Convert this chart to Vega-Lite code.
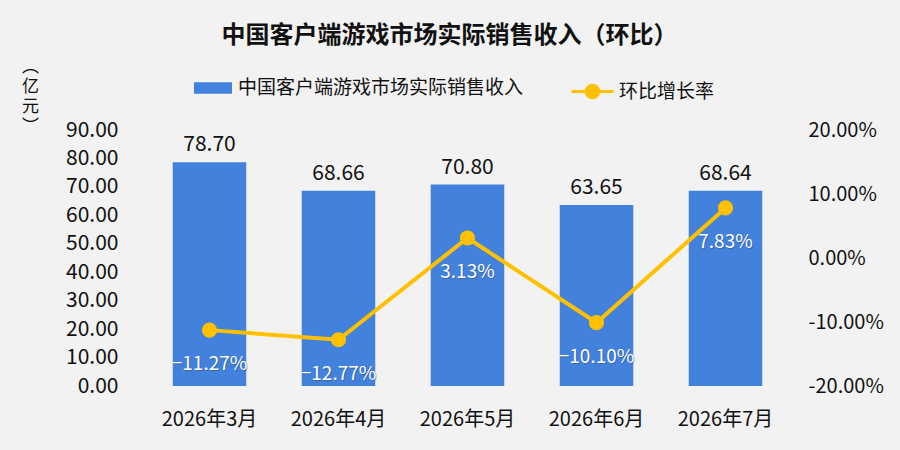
{
  "$schema": "https://vega.github.io/schema/vega-lite/v6.json",
  "width": 645,
  "height": 256,
  "autosize": {"type": "none"},
  "padding": {"left": 145, "top": 130, "right": 110, "bottom": 64},
  "background": "#f2f2f2",
  "title": {
    "text": "中国客户端游戏市场实际销售收入（环比）",
    "fontSize": 24,
    "fontWeight": "bold",
    "color": "#111111",
    "anchor": "middle",
    "dx": -18,
    "offset": 9
  },
  "data": {
    "values": [
      {"month": "2026年3月", "revenue": 78.70, "growth": -0.1127},
      {"month": "2026年4月", "revenue": 68.66, "growth": -0.1277},
      {"month": "2026年5月", "revenue": 70.80, "growth": 0.0313},
      {"month": "2026年6月", "revenue": 63.65, "growth": -0.1010},
      {"month": "2026年7月", "revenue": 68.64, "growth": 0.0783}
    ]
  },
  "encoding": {
    "x": {
      "field": "month",
      "type": "ordinal",
      "sort": null,
      "scale": {"paddingInner": 0.43, "paddingOuter": 0.215},
      "axis": {
        "title": null,
        "labelAngle": 0,
        "labelFontSize": 20,
        "labelPadding": 23,
        "labelColor": "#111111",
        "domain": false,
        "ticks": false
      }
    }
  },
  "layer": [
    {
      "encoding": {
        "y": {
          "field": "revenue",
          "type": "quantitative",
          "scale": {"domain": [0, 90], "nice": false},
          "axis": {
            "title": ["︵", "亿", "元", "︶"],
            "titleAngle": 0,
            "titleX": -115,
            "titleY": -72,
            "titleAlign": "center",
            "titleBaseline": "top",
            "titleFontSize": 17,
            "titleFontWeight": "normal",
            "titleLineHeight": 20,
            "titleColor": "#111111",
            "values": [0, 10, 20, 30, 40, 50, 60, 70, 80, 90],
            "format": ".2f",
            "labelFontSize": 21,
            "labelPadding": 27,
            "labelColor": "#111111",
            "domain": false,
            "ticks": false,
            "grid": false
          }
        }
      },
      "layer": [
        {
          "mark": {"type": "bar"},
          "encoding": {
            "color": {
              "datum": "中国客户端游戏市场实际销售收入",
              "scale": {"range": ["#4281dc"]},
              "legend": {
                "orient": "none",
                "legendX": 49,
                "legendY": -61,
                "title": null,
                "symbolType": "M-1,-0.3H1V0.3H-1Z",
                "symbolSize": 1444,
                "symbolStrokeWidth": 0,
                "labelFontSize": 19,
                "labelLimit": 400,
                "labelColor": "#111111",
                "labelOffset": 6
              }
            }
          }
        },
        {
          "mark": {"type": "text", "baseline": "bottom", "dy": -7, "fontSize": 21, "color": "#111111"},
          "encoding": {"text": {"field": "revenue", "type": "quantitative", "format": ".2f"}}
        }
      ]
    },
    {
      "encoding": {
        "y": {
          "field": "growth",
          "type": "quantitative",
          "scale": {"domain": [-0.2, 0.2], "nice": false},
          "axis": {
            "orient": "right",
            "title": null,
            "values": [-0.2, -0.1, 0, 0.1, 0.2],
            "format": ".2%",
            "labelExpr": "replace(datum.label, '−', '-')",
            "labelFontSize": 20,
            "labelPadding": 18,
            "labelColor": "#111111",
            "domain": false,
            "ticks": false,
            "grid": false
          }
        }
      },
      "layer": [
        {
          "mark": {"type": "line", "strokeWidth": 4},
          "encoding": {
            "stroke": {
              "datum": "环比增长率",
              "scale": {"range": ["#ffc000"]},
              "legend": {
                "orient": "none",
                "legendX": 425,
                "legendY": -61,
                "title": null,
                "symbolType": "M-1,0H-0.3A0.3,0.3 0 1,1 0.3,0A0.3,0.3 0 1,1 -0.3,0M0.3,0H1",
                "symbolSize": 1764,
                "symbolStrokeWidth": 3,
                "labelFontSize": 19,
                "labelColor": "#111111",
                "labelOffset": 4,
                "encode": {"symbols": {"update": {"fill": {"value": "#ffc000"}, "stroke": {"value": "#ffc000"}}}}
              }
            }
          }
        },
        {
          "mark": {"type": "circle", "size": 230, "color": "#ffc000", "opacity": 1}
        },
        {
          "mark": {"type": "text", "dy": 35, "dx": 1, "fontSize": 19, "color": "#333333", "opacity": 0.35},
          "encoding": {"text": {"field": "growth", "type": "quantitative", "format": ".2%"}}
        },
        {
          "mark": {"type": "text", "dy": 34, "fontSize": 19, "color": "#ffffff"},
          "encoding": {"text": {"field": "growth", "type": "quantitative", "format": ".2%"}}
        }
      ]
    }
  ],
  "resolve": {"scale": {"y": "independent"}},
  "config": {
    "font": "Noto Sans CJK SC",
    "view": {"stroke": null}
  }
}
